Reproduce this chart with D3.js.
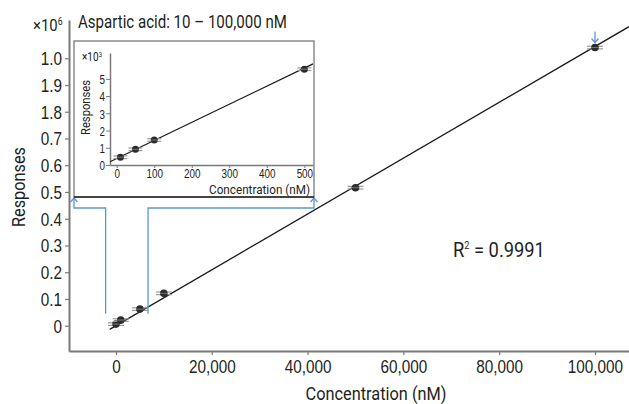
<!DOCTYPE html>
<html>
<head>
<meta charset="utf-8">
<script src="https://cdn.jsdelivr.net/npm/d3@7"></script>
<style>
  body { margin: 0; background: #fff; }
  svg { display: block; font-family: Roboto, "Liberation Sans", sans-serif; }
  text { fill: #231f20; }
</style>
</head>
<body>
<svg></svg>
<script>
// main curve: concentration (nM) vs response (x10^6)
const mainConc = [10, 1000, 5000, 10000, 50000, 100000];
const mainResp = [0.006, 0.021, 0.062, 0.121, 0.516, 1.04];
const mainYTicks = [0, 0.1, 0.2, 0.3, 0.4, 0.5, 0.6, 0.7, 0.8, 0.9, 1.0];
const mainYLabels = ['0', '0.1', '0.2', '0.3', '0.4', '0.5', '0.6', '0.7', '1.8', '1.9', '1.0'];
const mainXTicks = [0, 20000, 40000, 60000, 80000, 100000];
const mainFit = [1.044e-5, 0]; // slope, intercept

// inset: low range, response (x10^3)
const insetConc = [10, 50, 100, 500];
const insetResp = [0.45, 0.91, 1.45, 5.56];
const insetXTicks = [0, 100, 200, 300, 400, 500];
const insetYTicks = [0, 1, 2, 3, 4, 5];
const insetFit = [0.0105, 0.377];

const width = 629;
const height = 404;
const blue = '#5b96d8';
const axisGray = '#7a7a7a';

const svg = d3.select('svg').attr('width', width).attr('height', height);

// the reference uses a condensed face, so squeeze text horizontally
const scaleText = (node, sx) => {
  const t = d3.select(node);
  const x0 = +t.attr('x') || 0;
  t.attr('x', x0 / sx);
  t.attr('transform', `${t.attr('transform') || ''} scale(${sx},1)`);
};
const squeezeBy = (sel, sx) => sel.each(function () { scaleText(this, sx); });
const squeezeTo = (sel, w) => sel.each(function () { scaleText(this, w / this.getBBox().width); });

// ---- main chart ----
const x = d3.scaleLinear().domain([-9800, 107100]).range([69, 629]);
const y = d3.scaleLinear().domain([-0.0946, 1.143]).range([351, 20]);

const xAxis = d3.axisBottom(x)
  .tickValues(mainXTicks)
  .tickSize(4)
  .tickSizeOuter(0)
  .tickPadding(5)
  .tickFormat(d3.format(','));

const gx = svg.append('g')
  .attr('transform', `translate(0, ${y.range()[0]})`)
  .call(xAxis);

const yAxis = d3.axisLeft(y)
  .tickValues(mainYTicks)
  .tickSize(4)
  .tickSizeOuter(0)
  .tickPadding(3)
  .tickFormat((d, i) => mainYLabels[i]);

const gy = svg.append('g')
  .attr('transform', `translate(${x.range()[0]}, 0)`)
  .call(yAxis);

[gx, gy].forEach(g => {
  g.selectAll('.domain').attr('stroke', axisGray).attr('stroke-width', 2);
  g.selectAll('.tick line').attr('stroke', axisGray).attr('stroke-width', 1.2);
  g.selectAll('text').style('font-size', '18px').style('fill', '#231f20');
  squeezeBy(g.selectAll('text'), 0.85);
});
gy.selectAll('text').attr('dy', '0.36em');

// axis titles
squeezeTo(svg.append('text')
  .attr('x', 376)
  .attr('y', 400)
  .attr('text-anchor', 'middle')
  .style('font-size', '18px')
  .text('Concentration (nM)'), 141);

squeezeTo(svg.append('text')
  .attr('transform', 'translate(25, 187) rotate(-90)')
  .attr('text-anchor', 'middle')
  .style('font-size', '18px')
  .text('Responses'), 80);

const exp6 = svg.append('text').attr('x', 33).attr('y', 31).style('font-size', '17px');
exp6.append('tspan').text('×10');
exp6.append('tspan').attr('dy', -6).style('font-size', '10px').text('6');
squeezeTo(exp6, 30);

squeezeTo(svg.append('text')
  .attr('x', 78)
  .attr('y', 28)
  .style('font-size', '18px')
  .text('Aspartic acid: 10 – 100,000 nM'), 209);

const r2 = svg.append('text').attr('x', 453).attr('y', 257).style('font-size', '20px');
r2.append('tspan').text('R');
r2.append('tspan').attr('dy', -8).style('font-size', '10px').text('2');
r2.append('tspan').attr('dy', 8).text(' = 0.9991');
squeezeTo(r2, 92);

// fit line
const mainLineX = [-1300, x.domain()[1]];
svg.append('line')
  .attr('x1', x(mainLineX[0]))
  .attr('y1', y(mainFit[0] * mainLineX[0] + mainFit[1]))
  .attr('x2', x(mainLineX[1]))
  .attr('y2', y(mainFit[0] * mainLineX[1] + mainFit[1]))
  .attr('stroke', '#1a1a1a')
  .attr('stroke-width', 1.3);

const drawPoints = (g, cx, cy, r, bar) => {
  const pts = g.selectAll(null)
    .data(cx.map((c, i) => [c, cy[i]]))
    .enter()
    .append('g')
    .attr('transform', d => `translate(${d[0]}, ${d[1]})`);
  pts.append('line')
    .attr('x1', -bar).attr('x2', bar).attr('y1', -1.3).attr('y2', -1.3)
    .attr('stroke', '#9a9a9a').attr('stroke-width', 1.2);
  pts.append('line')
    .attr('x1', -bar).attr('x2', bar).attr('y1', 1.3).attr('y2', 1.3)
    .attr('stroke', '#9a9a9a').attr('stroke-width', 1.2);
  pts.append('circle').attr('r', r).attr('fill', '#2b2b2b');
  pts.append('line')
    .attr('x1', -r).attr('x2', r).attr('y1', 0).attr('y2', 0)
    .attr('stroke', '#8a8a8a').attr('stroke-width', 0.8);
};

drawPoints(svg.append('g'), mainConc.map(x), mainResp.map(y), 3.8, 8);

// blue callout lines
const calloutX = [-2150, 6700];
const calloutY = [0.045, 0.44];
const boxLeft = 74, boxRight = 314, boxTop = 41, boxBottom = 197;

const callout = svg.append('g')
  .attr('fill', 'none')
  .attr('stroke', blue)
  .attr('stroke-width', 1.3);

callout.append('path')
  .attr('d', `M${x(calloutX[0])},${y(calloutY[0])} V${y(calloutY[1])} H${boxLeft} V${boxBottom + 1}`);
callout.append('path')
  .attr('d', `M${x(calloutX[1])},${y(calloutY[0])} V${y(calloutY[1])} H${boxRight} V${boxBottom + 1}`);
[boxLeft, boxRight].forEach(bx => {
  callout.append('path').attr('d', `M${bx - 3.5},${boxBottom + 5} L${bx},${boxBottom + 1} L${bx + 3.5},${boxBottom + 5}`);
});

const topArrowX = x(mainConc[5]);
const topArrowY = y(mainResp[5]) - 5;
callout.append('path').attr('d', `M${topArrowX},${topArrowY - 11} V${topArrowY}`);
callout.append('path').attr('d', `M${topArrowX - 3.5},${topArrowY - 4} L${topArrowX},${topArrowY} L${topArrowX + 3.5},${topArrowY - 4}`);

// ---- inset ----
const inset = svg.append('g');
inset.append('rect')
  .attr('x', boxLeft).attr('y', boxTop)
  .attr('width', boxRight - boxLeft).attr('height', boxBottom - boxTop)
  .attr('fill', '#fff')
  .attr('stroke', '#8c8c8c')
  .attr('stroke-width', 1.5);
inset.append('line')
  .attr('x1', boxLeft).attr('x2', boxRight)
  .attr('y1', boxBottom).attr('y2', boxBottom)
  .attr('stroke', '#222').attr('stroke-width', 1.5);

const ix = d3.scaleLinear().domain([-17.8, 523]).range([110, 313]);
const iy = d3.scaleLinear().domain([0, 6.5]).range([165, 53]);

const igx = inset.append('g')
  .attr('transform', `translate(0, ${iy(0)})`)
  .call(d3.axisBottom(ix).tickValues(insetXTicks).tickSize(3).tickSizeOuter(0).tickPadding(1));
const igy = inset.append('g')
  .attr('transform', `translate(${ix.range()[0]}, 0)`)
  .call(d3.axisLeft(iy).tickValues(insetYTicks).tickFormat(d3.format('d')).tickSize(4).tickSizeOuter(0).tickPadding(1));

[igx, igy].forEach(g => {
  g.selectAll('.domain').attr('stroke', axisGray).attr('stroke-width', 1.5);
  g.selectAll('.tick line').attr('stroke', axisGray);
  g.selectAll('text').style('font-size', '13px').style('fill', '#231f20');
  squeezeBy(g.selectAll('text'), 0.76);
});
igy.selectAll('text').attr('dy', '0.36em');

squeezeTo(inset.append('text')
  .attr('x', 310).attr('y', 194)
  .attr('text-anchor', 'end')
  .style('font-size', '13px')
  .text('Concentration (nM)'), 101);

squeezeTo(inset.append('text')
  .attr('transform', 'translate(90, 107.5) rotate(-90)')
  .attr('text-anchor', 'middle')
  .style('font-size', '13.5px')
  .text('Responses'), 55);

const exp3 = inset.append('text').attr('x', 82).attr('y', 61).style('font-size', '12px');
exp3.append('tspan').text('×10');
exp3.append('tspan').attr('dy', -4).style('font-size', '7px').text('3');
squeezeTo(exp3, 20);

const insetLineX = ix.domain();
inset.append('line')
  .attr('x1', ix(insetLineX[0]))
  .attr('y1', iy(insetFit[0] * insetLineX[0] + insetFit[1]))
  .attr('x2', ix(insetLineX[1]))
  .attr('y2', iy(insetFit[0] * insetLineX[1] + insetFit[1]))
  .attr('stroke', '#1a1a1a')
  .attr('stroke-width', 1.2);

drawPoints(inset.append('g'), insetConc.map(ix), insetResp.map(iy), 3.5, 7);
</script>
</body>
</html>
